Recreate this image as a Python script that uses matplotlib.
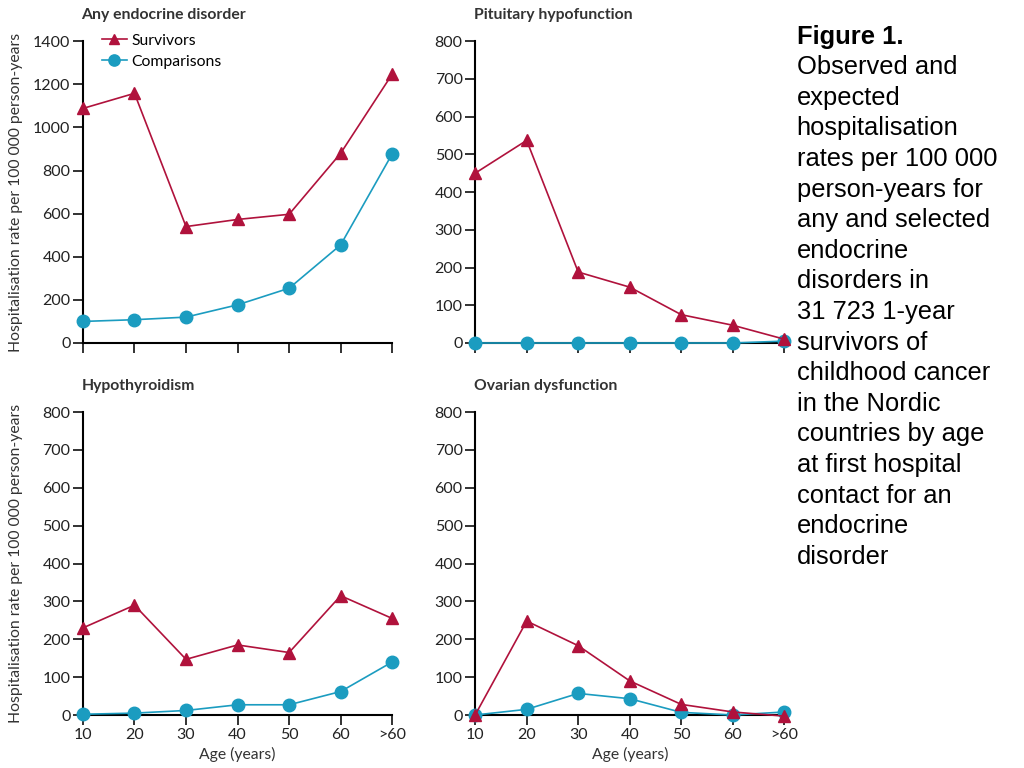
import matplotlib
matplotlib.use("Agg")
import matplotlib.pyplot as plt

# age groups on the x axis
ages = ["10", "20", "30", "40", "50", "60", ">60"]

# values (per 100 000 person-years)
any_surv = [1088, 1158, 540, 573, 597, 880, 1247]
any_comp = [100, 108, 120, 177, 254, 455, 877]

pit_surv = [450, 537, 188, 148, 75, 47, 10]
pit_comp = [0, 0, 0, 0, 0, 0, 5]

hypo_surv = [230, 290, 147, 185, 165, 315, 255]
hypo_comp = [2, 5, 12, 27, 27, 62, 140]

ova_surv = [0, 248, 183, 90, 28, 8, -3]
ova_comp = [0, 15, 57, 43, 7, 0, 8]

titles = ["Any endocrine disorder", "Pituitary hypofunction",
          "Hypothyroidism", "Ovarian dysfunction"]

red = "#b0123c"
blue = "#1b9cc0"
plt.rcParams["font.family"] = ["Lato", "DejaVu Sans"]

fig = plt.figure(figsize=(10.24, 7.68), dpi=100)

boxes = [(0.081, 0.5534, 0.302, 0.393),
         (0.464, 0.5534, 0.302, 0.393),
         (0.081, 0.069, 0.302, 0.3945),
         (0.464, 0.069, 0.302, 0.3945)]
panels = [(any_surv, any_comp, 1400, 200),
          (pit_surv, pit_comp, 800, 100),
          (hypo_surv, hypo_comp, 800, 100),
          (ova_surv, ova_comp, 800, 100)]

x = list(range(len(ages)))
for i, (box, (surv, comp, top, step), title) in enumerate(zip(boxes, panels, titles)):
    ax = fig.add_axes(box)
    ax.plot(x, comp, "-o", color=blue, lw=1.2, ms=9, clip_on=False, zorder=3,
            label="Comparisons")
    ax.plot(x, surv, "-^", color=red, lw=1.2, ms=8, clip_on=False, zorder=4,
            label="Survivors")
    ax.set_xlim(0, 6)
    ax.set_ylim(0, top)
    ax.set_yticks(range(0, top + 1, step))
    ax.set_xticks(x)
    ax.spines["top"].set_visible(False)
    ax.spines["right"].set_visible(False)
    ax.spines["left"].set_linewidth(1.5)
    ax.spines["bottom"].set_linewidth(1.5)
    ax.tick_params(direction="out", length=7, width=1.3, labelsize=11.5,
                   colors="#222222", pad=2)
    ax.set_title(title, loc="left", fontsize=11.3, fontweight="bold",
                 color="#333333", pad=16, x=-0.005)
    if i >= 2:
        ax.set_xticklabels(ages)
        ax.set_xlabel("Age (years)", fontsize=11.3, color="#333333", labelpad=4)
    else:
        ax.set_xticklabels([])
    if i % 2 == 0:
        ax.set_ylabel("Hospitalisation rate per 100 000 person-years",
                      fontsize=11.3, color="#333333")
        ax.yaxis.set_label_coords(-0.195, 0.5)
    if i == 0:
        h, l = ax.get_legend_handles_labels()
        ax.legend(h[::-1], l[::-1], loc="upper left", frameon=False,
                  fontsize=11.3, handlelength=1.6, handletextpad=0.3,
                  borderaxespad=0.0, bbox_to_anchor=(0.04, 1.045),
                  labelspacing=0.45, markerscale=0.9)

fig.text(0.778, 0.968, "Figure 1.", fontsize=18.4, fontweight="bold",
         family="Liberation Sans", va="top")
caption = ("Observed and\nexpected\nhospitalisation\nrates per 100 000\n"
           "person-years for\nany and selected\nendocrine\ndisorders in\n"
           "31 723 1-year\nsurvivors of\nchildhood cancer\nin the Nordic\n"
           "countries by age\nat first hospital\ncontact for an\nendocrine\ndisorder")
fig.text(0.778, 0.928, caption, fontsize=18.4, family="Liberation Sans",
         va="top", linespacing=1.347)

fig.savefig("out.png", dpi=100)
